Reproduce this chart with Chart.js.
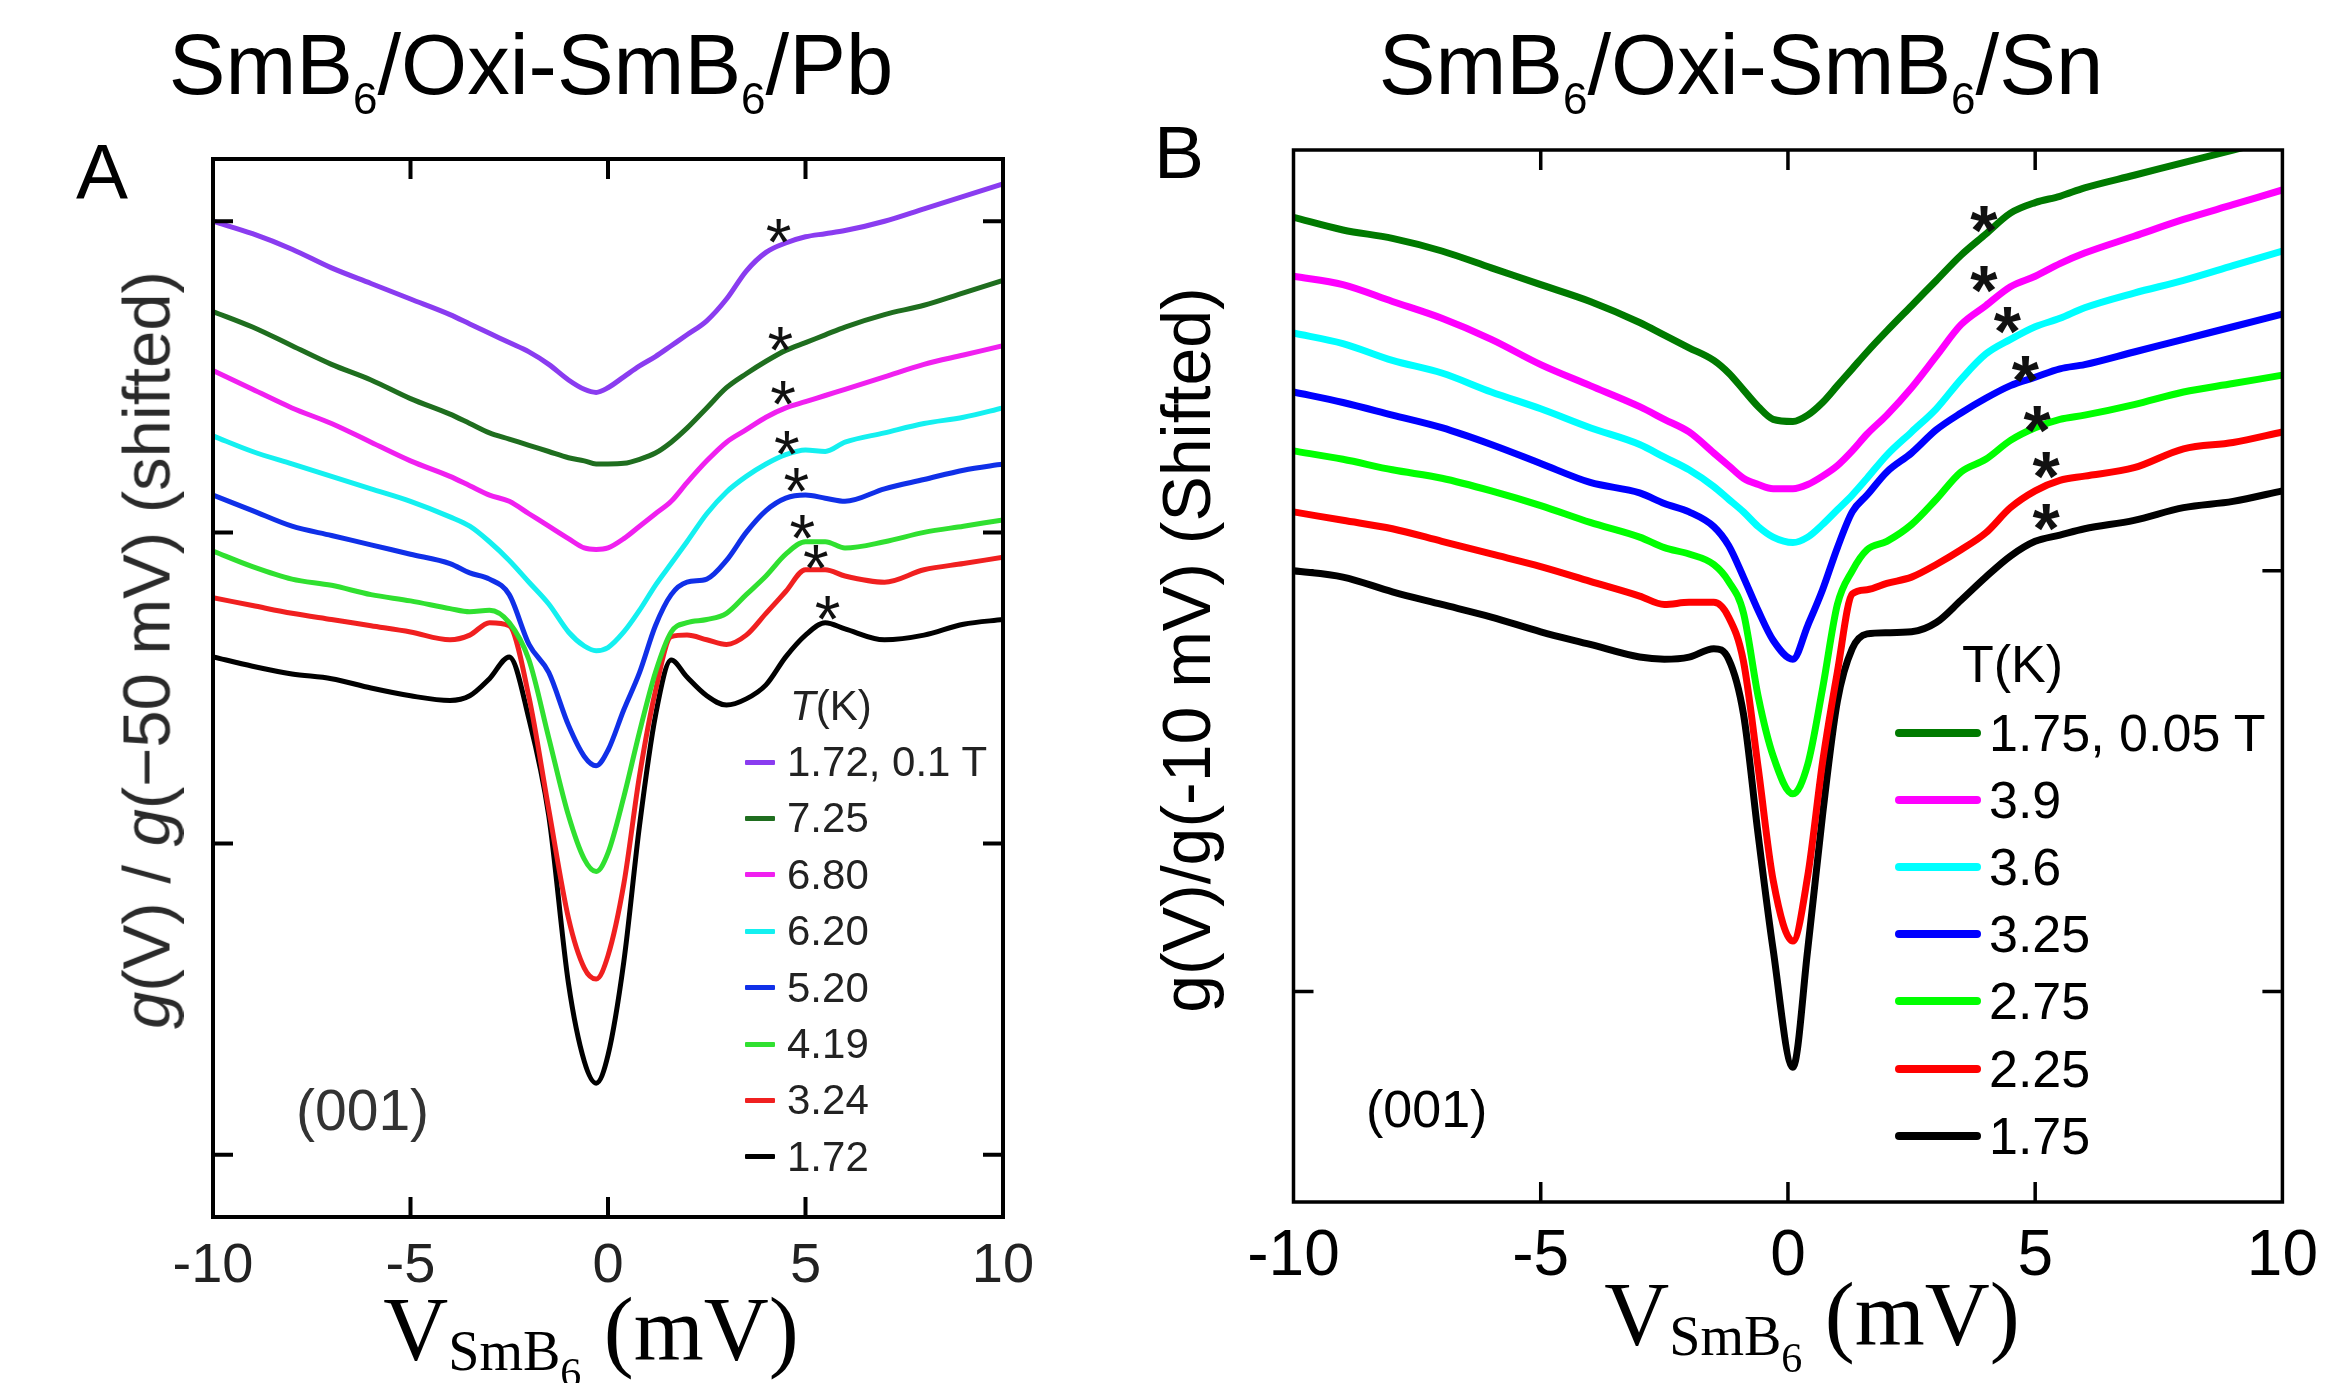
<!DOCTYPE html>
<html>
<head>
<meta charset="utf-8">
<title>SmB6 tunneling spectra</title>
<script src="https://cdn.jsdelivr.net/npm/chart.js@4.4.1/dist/chart.umd.min.js"></script>
<style>
  body { margin: 0; background: #fff; }
  #page { position: relative; width: 2335px; height: 1383px; overflow: hidden; font-family: 'Liberation Sans', Arial, sans-serif; color: #000; }
  canvas { position: absolute; top: 0; }
  .txt { position: absolute; white-space: nowrap; line-height: 1; }
  .title { font-size: 85px; transform: translateX(-50%); }
  .title .t6 { font-size: 44px; vertical-align: -20px; }
  .letter { font-size: 78px; }
  .ylab { transform: translate(-50%, -50%) rotate(-90deg); }
  .xlab { font-family: 'Liberation Serif', 'DejaVu Serif', serif; font-size: 90px; transform: translateX(-50%); }
  .xlab .s1 { font-size: 56px; vertical-align: -10px; }
  .xlab .s2 { font-size: 42px; vertical-align: -17px; }
  .row { position: absolute; display: flex; align-items: center; white-space: nowrap; line-height: 1; }
  .row span.sw { display: inline-block; }
</style>
</head>
<body>
<div id="page">
  <canvas id="chartA" width="1168" height="1383" style="left:0"></canvas>
  <canvas id="chartB" width="1167" height="1383" style="left:1168px"></canvas>

  <div class="txt title" style="left:531px;top:22px">SmB<span class="t6">6</span>/Oxi-SmB<span class="t6">6</span>/Pb</div>
  <div class="txt title" style="left:1741px;top:22px">SmB<span class="t6">6</span>/Oxi-SmB<span class="t6">6</span>/Sn</div>
  <div class="txt letter" style="left:76px;top:133px">A</div>
  <div class="txt letter" style="left:1154px;top:115px;font-size:75px">B</div>

  <div class="txt ylab" style="left:146px;top:650px;font-size:67px;color:#2a2a2a"><i>g</i>(V) / <i>g</i>(−50 mV) (shifted)</div>
  <div class="txt ylab" style="left:1186px;top:650px;font-size:68px">g(V)/g(-10 mV) (Shifted)</div>

  <div class="txt xlab" style="left:591px;top:1285px">V<span class="s1">SmB<span class="s2">6</span></span> (mV)</div>
  <div class="txt xlab" style="left:1812px;top:1270px">V<span class="s1">SmB<span class="s2">6</span></span> (mV)</div>

  <div class="txt" style="left:296px;top:1082px;font-size:57px;color:#333">(001)</div>
  <div class="txt" style="left:1366px;top:1083px;font-size:52px">(001)</div>
  <div class="txt" style="left:790px;top:685px;font-size:42px;color:#222"><i>T</i>(K)</div>
  <div class="txt" style="left:1962px;top:638px;font-size:52px">T(K)</div>

  <div id="legendA"></div>
  <div id="legendB"></div>
</div>

<script>
// Data - panel A (SmB6/Oxi-SmB6/Pb), bias in mV, shifted g(V)/g(-50 mV)
const voltsA = [-10, -9, -8, -7, -6, -5, -4, -3.5, -3, -2.5, -2, -1.5, -1, -0.6, -0.3, 0, 0.4, 0.8, 1.2, 1.6, 2, 2.5, 3, 3.5, 4, 4.5, 5, 5.5, 6, 7, 8, 9, 10];
const pbT172Field = [3.00, 2.96, 2.91, 2.85, 2.80, 2.75, 2.70, 2.67, 2.64, 2.61, 2.58, 2.54, 2.49, 2.46, 2.45, 2.465, 2.50, 2.535, 2.565, 2.60, 2.635, 2.68, 2.75, 2.84, 2.90, 2.93, 2.95, 2.96, 2.97, 3.00, 3.04, 3.08, 3.12];
const pbT725 = [2.71, 2.66, 2.60, 2.54, 2.49, 2.43, 2.38, 2.35, 2.32, 2.30, 2.28, 2.26, 2.24, 2.23, 2.22, 2.22, 2.222, 2.235, 2.255, 2.29, 2.335, 2.40, 2.465, 2.51, 2.55, 2.585, 2.61, 2.635, 2.66, 2.70, 2.73, 2.77, 2.81];
const pbT680 = [2.52, 2.46, 2.40, 2.35, 2.29, 2.23, 2.18, 2.15, 2.12, 2.10, 2.06, 2.02, 1.98, 1.95, 1.945, 1.95, 1.98, 2.02, 2.06, 2.10, 2.16, 2.23, 2.29, 2.33, 2.37, 2.40, 2.42, 2.44, 2.46, 2.50, 2.54, 2.57, 2.60];
const pbT620 = [2.31, 2.26, 2.22, 2.18, 2.14, 2.10, 2.05, 2.02, 1.97, 1.91, 1.84, 1.77, 1.68, 1.635, 1.62, 1.63, 1.68, 1.75, 1.83, 1.90, 1.97, 2.06, 2.13, 2.18, 2.22, 2.25, 2.265, 2.26, 2.29, 2.32, 2.35, 2.37, 2.40];
const pbT520 = [2.12, 2.07, 2.02, 1.99, 1.96, 1.93, 1.90, 1.87, 1.85, 1.80, 1.64, 1.55, 1.38, 1.28, 1.25, 1.30, 1.43, 1.55, 1.70, 1.80, 1.84, 1.85, 1.91, 2.00, 2.07, 2.11, 2.12, 2.11, 2.10, 2.14, 2.17, 2.20, 2.22];
const pbT419 = [1.94, 1.89, 1.85, 1.83, 1.80, 1.78, 1.755, 1.745, 1.75, 1.71, 1.59, 1.34, 1.09, 0.95, 0.91, 0.97, 1.15, 1.36, 1.55, 1.68, 1.71, 1.72, 1.74, 1.80, 1.86, 1.93, 1.97, 1.97, 1.95, 1.97, 2.00, 2.02, 2.04];
const pbT324 = [1.79, 1.765, 1.74, 1.72, 1.70, 1.68, 1.655, 1.67, 1.71, 1.70, 1.47, 1.11, 0.76, 0.60, 0.565, 0.64, 0.87, 1.22, 1.49, 1.665, 1.67, 1.655, 1.64, 1.67, 1.74, 1.81, 1.88, 1.88, 1.86, 1.84, 1.88, 1.90, 1.92];
const pbT172 = [1.60, 1.57, 1.545, 1.53, 1.50, 1.475, 1.46, 1.475, 1.53, 1.60, 1.40, 1.09, 0.55, 0.30, 0.23, 0.32, 0.62, 1.06, 1.41, 1.59, 1.535, 1.475, 1.445, 1.465, 1.51, 1.60, 1.67, 1.71, 1.69, 1.655, 1.67, 1.705, 1.72];
const labelsA = ['1.72, 0.1 T', '7.25', '6.80', '6.20', '5.20', '4.19', '3.24', '1.72'];
const colorsA = ['#8a3cf0', '#1f6e1f', '#f020f0', '#14f0f0', '#1030e8', '#30e030', '#f02020', '#000000'];
const starVoltsA = [4.32, 4.36, 4.43, 4.53, 4.77, 4.92, 5.26, 5.56];
const starLevelsA = [2.98, 2.635, 2.46, 2.30, 2.18, 2.03, 1.935, 1.77];
const yMarksA = [0, 1, 2, 3];

// Data - panel B (SmB6/Oxi-SmB6/Sn), shifted g(V)/g(-10 mV)
const voltsB = [-10, -9, -8, -7, -6, -5, -4, -3, -2.5, -2, -1.5, -1.2, -0.9, -0.6, -0.3, 0.1, 0.4, 0.7, 1, 1.3, 1.6, 2, 2.5, 3, 3.5, 4, 4.5, 5, 5.5, 6, 7, 8, 9, 10];
const snT175Field = [1.84, 1.81, 1.79, 1.76, 1.72, 1.68, 1.64, 1.59, 1.56, 1.53, 1.50, 1.47, 1.43, 1.39, 1.36, 1.355, 1.37, 1.40, 1.44, 1.48, 1.52, 1.57, 1.63, 1.69, 1.75, 1.80, 1.85, 1.875, 1.89, 1.91, 1.94, 1.97, 2.00, 2.03];
const snT390 = [1.70, 1.68, 1.64, 1.60, 1.55, 1.49, 1.44, 1.39, 1.36, 1.33, 1.28, 1.25, 1.22, 1.205, 1.195, 1.195, 1.205, 1.225, 1.25, 1.285, 1.325, 1.37, 1.435, 1.51, 1.585, 1.63, 1.675, 1.70, 1.73, 1.755, 1.795, 1.835, 1.87, 1.905];
const snT360 = [1.565, 1.54, 1.50, 1.47, 1.425, 1.385, 1.34, 1.30, 1.27, 1.24, 1.20, 1.17, 1.14, 1.105, 1.08, 1.067, 1.08, 1.11, 1.145, 1.18, 1.22, 1.275, 1.33, 1.385, 1.455, 1.515, 1.55, 1.58, 1.60, 1.625, 1.66, 1.69, 1.725, 1.76];
const snT325 = [1.425, 1.40, 1.37, 1.34, 1.30, 1.255, 1.21, 1.185, 1.16, 1.14, 1.105, 1.06, 0.985, 0.905, 0.835, 0.79, 0.87, 0.955, 1.055, 1.14, 1.18, 1.235, 1.28, 1.335, 1.375, 1.41, 1.44, 1.46, 1.48, 1.49, 1.52, 1.55, 1.58, 1.61];
const snT275 = [1.285, 1.265, 1.24, 1.22, 1.19, 1.155, 1.115, 1.08, 1.055, 1.04, 1.015, 0.975, 0.90, 0.70, 0.56, 0.47, 0.54, 0.72, 0.92, 1.00, 1.05, 1.07, 1.11, 1.17, 1.235, 1.265, 1.31, 1.34, 1.36, 1.37, 1.395, 1.425, 1.445, 1.465];
const snT225 = [1.14, 1.12, 1.10, 1.07, 1.04, 1.01, 0.975, 0.94, 0.92, 0.925, 0.925, 0.89, 0.785, 0.53, 0.265, 0.12, 0.275, 0.545, 0.76, 0.945, 0.955, 0.97, 0.985, 1.015, 1.05, 1.09, 1.15, 1.19, 1.215, 1.225, 1.245, 1.29, 1.305, 1.33];
const snT175 = [1.00, 0.985, 0.95, 0.92, 0.89, 0.855, 0.825, 0.795, 0.79, 0.795, 0.815, 0.79, 0.66, 0.37, 0.10, -0.18, 0.10, 0.42, 0.69, 0.815, 0.85, 0.853, 0.855, 0.877, 0.93, 0.985, 1.035, 1.07, 1.085, 1.10, 1.12, 1.15, 1.165, 1.19];
const labelsB = ['1.75, 0.05 T', '3.9', '3.6', '3.25', '2.75', '2.25', '1.75'];
const colorsB = ['#007a00', '#ff00ff', '#00ffff', '#0000ff', '#00ff00', '#ff0000', '#000000'];
const starVoltsB = [3.96, 3.96, 4.44, 4.80, 5.04, 5.22, 5.22];
const starLevelsB = [1.846, 1.703, 1.606, 1.49, 1.37, 1.262, 1.137];
const yMarksB = [0, 1];

const xInnerTicks = [-5, 0, 5];

// Frame + inward tick marks (no labels on y)
function framePlugin(p) {
    return {
        id: 'frame',
        afterDatasetsDraw(chart) {
            const { ctx, chartArea: a, scales: { x, y } } = chart;
            ctx.save();
            ctx.strokeStyle = '#000';
            ctx.lineWidth = p.frameWidth;
            ctx.strokeRect(a.left, a.top, a.right - a.left, a.bottom - a.top);
            ctx.beginPath();
            xInnerTicks.forEach(v => {
                const px = x.getPixelForValue(v);
                ctx.moveTo(px, a.bottom); ctx.lineTo(px, a.bottom - p.tickLen);
                ctx.moveTo(px, a.top); ctx.lineTo(px, a.top + p.tickLen);
            });
            p.yMarks.forEach(v => {
                const py = y.getPixelForValue(v);
                ctx.moveTo(a.left, py); ctx.lineTo(a.left + p.tickLen, py);
                ctx.moveTo(a.right, py); ctx.lineTo(a.right - p.tickLen, py);
            });
            ctx.stroke();
            ctx.restore();
        }
    };
}

// Asterisks marking the kinks
function starPlugin(p) {
    return {
        id: 'stars',
        afterDatasetsDraw(chart) {
            const { ctx, scales: { x, y } } = chart;
            ctx.save();
            ctx.fillStyle = '#111';
            ctx.font = p.starFont;
            ctx.textAlign = 'center';
            ctx.textBaseline = 'alphabetic';
            p.starVolts.forEach((v, i) => {
                ctx.fillText('*', x.getPixelForValue(v), y.getPixelForValue(p.starLevels[i]) + p.starShift);
            });
            ctx.restore();
        }
    };
}

function makePanel(canvasId, p) {
    const ctx = document.getElementById(canvasId).getContext('2d');
    return new Chart(ctx, {
        type: 'line',
        data: {
            datasets: p.series.map((vals, i) => ({
                label: p.labels[i],
                data: p.volts.map((v, j) => ({ x: v, y: vals[j] })),
                borderColor: p.colors[i],
                borderWidth: p.lineWidth,
                pointRadius: 0,
                cubicInterpolationMode: 'monotone',
                fill: false
            }))
        },
        options: {
            responsive: false,
            animation: false,
            devicePixelRatio: 1,
            layout: { padding: p.padding },
            plugins: { legend: { display: false }, tooltip: { enabled: false } },
            scales: {
                x: {
                    type: 'linear', min: -10, max: 10,
                    grid: { display: false, drawTicks: false },
                    border: { display: false },
                    ticks: { stepSize: 5, autoSkip: false, maxRotation: 0, padding: p.tickPad, color: p.tickColor,
                             font: { family: 'Liberation Sans', size: p.tickSize } },
                    afterFit: (s) => { s.height = 100; }
                },
                y: { type: 'linear', display: false, min: p.yMin, max: p.yMax }
            }
        },
        plugins: [framePlugin(p), starPlugin(p)]
    });
}

// Legends (HTML rows built from labels/colors)
function buildLegend(id, labels, colors, o) {
    const box = document.getElementById(id);
    labels.forEach((lab, i) => {
        const row = document.createElement('div');
        row.className = 'row';
        row.style.left = o.left + 'px';
        row.style.top = (o.firstY + i * o.step - o.size / 2) + 'px';
        row.style.height = o.size + 'px';
        row.style.fontSize = o.size + 'px';
        row.style.color = o.color;
        row.innerHTML = `<span class="sw" style="width:${o.swW}px;height:${o.swH}px;background:${colors[i]};border-radius:${o.swR}px;margin-right:${o.gap}px"></span>${lab}`;
        box.appendChild(row);
    });
}

makePanel('chartA', {
    volts: voltsA,
    series: [pbT172Field, pbT725, pbT680, pbT620, pbT520, pbT419, pbT324, pbT172],
    labels: labelsA, colors: colorsA, lineWidth: 5,
    yMin: -0.2, yMax: 3.2, yMarks: yMarksA,
    padding: { left: 213, top: 159, right: 165, bottom: 66 },
    tickPad: 16, tickSize: 56, tickColor: '#222',
    frameWidth: 4, tickLen: 20,
    starVolts: starVoltsA, starLevels: starLevelsA, starFont: '66px Liberation Sans', starShift: 38
});

makePanel('chartB', {
    volts: voltsB,
    series: [snT175Field, snT390, snT360, snT325, snT275, snT225, snT175],
    labels: labelsB, colors: colorsB, lineWidth: 7,
    yMin: -0.5, yMax: 2.0, yMarks: yMarksB,
    padding: { left: 125.5, top: 150, right: 50.5, bottom: 81 },
    tickPad: 17, tickSize: 64, tickColor: '#000',
    frameWidth: 3.5, tickLen: 20,
    starVolts: starVoltsB, starLevels: starLevelsB, starFont: 'bold 70px Liberation Sans', starShift: 40
});

buildLegend('legendA', labelsA, colorsA, { left: 745, firstY: 762, step: 56.4, size: 42, color: '#222', swW: 30, swH: 5, swR: 1, gap: 12 });
buildLegend('legendB', labelsB, colorsB, { left: 1895, firstY: 733, step: 67.1, size: 52, color: '#000', swW: 86, swH: 8, swR: 4, gap: 8 });
</script>
</body>
</html>
